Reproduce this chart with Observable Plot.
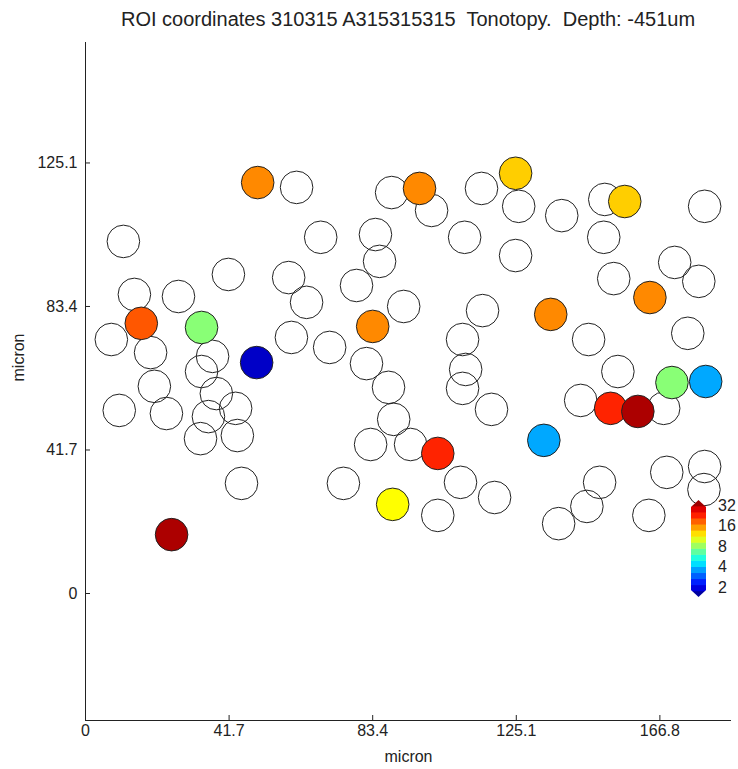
<!DOCTYPE html>
<html>
<head>
<meta charset="utf-8">
<script src="https://cdn.jsdelivr.net/npm/d3@7"></script>
<script src="https://cdn.jsdelivr.net/npm/@observablehq/plot@0.6"></script>
<style>
  html, body { margin: 0; padding: 0; background: #fff; }
  #wrap { position: relative; width: 738px; height: 769px; font-family: "Liberation Sans", Arial, sans-serif; color: #222; }
  #title { position: absolute; left: 85px; width: 646px; top: 7px; height: 28px; text-align: center; font-size: 20px; white-space: pre; line-height: 24px; }
  #chart { position: absolute; left: 0; top: 35px; }
  #cbar { position: absolute; left: 0; top: 0; pointer-events: none; }
</style>
</head>
<body>
<div id="wrap">
  <div id="title">ROI coordinates 310315 A315315315  Tonotopy.  Depth: -451um</div>
  <div id="chart"></div>
</div>
<script>
// ---- data (microns) ----
// ROIs without a tonotopic response (open circles)
const emptyX = [61.3, 88.9, 11.0, 68.3, 84.2, 85.4, 41.5, 59.0, 78.7, 64.2, 14.2, 27.0, 92.4, 7.5, 59.8, 70.9, 18.9, 36.9, 81.6, 33.7, 20.0, 88.0, 38.0, 9.8, 23.5, 43.6, 35.7, 89.5, 33.4, 44.1, 82.8, 94.4,
  100.5, 115.0, 125.8, 138.3, 150.8, 179.8, 110.1, 150.5, 124.9, 171.1, 178.1, 153.4, 115.3, 146.1, 174.9, 109.5, 110.4, 109.5, 154.6, 143.8, 167.9, 117.9,
  45.3, 74.9, 108.9, 102.3, 118.8, 149.3, 145.6, 137.4, 168.8, 179.8, 179.6, 163.6];
const emptyY = [118.0, 116.5, 102.3, 103.5, 104.3, 96.5, 92.7, 91.8, 89.5, 84.6, 86.9, 86.3, 83.4, 73.8, 74.4, 71.5, 70.0, 68.9, 66.8, 64.5, 60.2, 59.9, 58.1, 53.2, 52.3, 53.8, 51.4, 50.6, 45.0, 45.9, 43.3, 43.3,
  111.3, 117.7, 112.5, 109.8, 114.5, 112.5, 103.5, 103.5, 98.2, 96.2, 90.7, 91.5, 82.2, 73.8, 75.6, 73.8, 65.1, 59.6, 64.5, 56.1, 53.8, 53.5,
  32.0, 32.0, 32.3, 22.7, 27.9, 32.3, 25.3, 20.3, 35.2, 36.9, 30.2, 22.7];
// ROIs with a best frequency (filled circles)
const cellX  = [50.0, 97.0, 124.9, 156.6, 163.9, 135.1, 83.4, 16.2, 33.7, 49.7, 170.3, 180.1, 152.5, 160.4, 133.1, 102.3, 89.2, 25.0];
const cellY  = [119.4, 117.7, 122.1, 113.9, 86.0, 81.1, 77.6, 78.5, 77.3, 67.1, 61.3, 61.6, 53.8, 52.9, 44.5, 40.7, 25.9, 17.1];
const cellBF = [16.2, 16.2, 13.0, 13.0, 16.2, 16.2, 16.2, 19.0, 7.6, 1.8, 7.6, 3.7, 22.5, 32.9, 3.7, 22.5, 11.1, 32.9];
// axes
const xTicks = [0, 41.7, 83.4, 125.1, 166.8];
const yTicks = [0, 41.7, 83.4, 125.1];
const xDomain = [0, 187.6];
const yDomain = [-36.9, 160.1];
const colorDomain = [1.43, 37.9];
const cbTicks = [2, 4, 8, 16, 32];
const axisLabel = ["micron"];

const empties = emptyX.map((x, i) => ({x, y: emptyY[i]}));
const cells = cellX.map((x, i) => ({x, y: cellY[i], bf: cellBF[i]})).sort((a, b) => a.bf - b.bf);

const clamp = v => Math.max(0, Math.min(1, v));
const jet = t => {
  const r = clamp(1.5 - Math.abs(4 * t - 3));
  const g = clamp(1.5 - Math.abs(4 * t - 2));
  const b = clamp(1.5 - Math.abs(4 * t - 1));
  return d3.rgb(r * 255, g * 255, b * 255).formatHex();
};

const W = 738, H = 734, mT = 7, mB = 49, mL = 85, mR = 7;
const frameW = W - mL - mR, frameH = H - mT - mB, tickLen = 5;
const ink = "#222";

const plot = Plot.plot({
  width: W,
  height: H,
  marginTop: mT,
  marginBottom: mB,
  marginLeft: mL,
  marginRight: mR,
  style: {fontFamily: "'Liberation Sans', Arial, sans-serif", fontSize: "16px", color: ink, background: "white", overflow: "visible"},
  x: {domain: xDomain},
  y: {domain: yDomain},
  color: {type: "log", domain: colorDomain, interpolate: jet},
  marks: [
    Plot.axisX({ticks: xTicks, tickFormat: d => `${d}`, tickSize: 0, tickPadding: 4, label: null, fontSize: 16}),
    Plot.axisY({ticks: yTicks, tickFormat: d => `${d}`, tickSize: 0, tickPadding: 8, label: null, fontSize: 16}),
    Plot.tickX(xTicks, {x: d => d, stroke: ink, insetTop: frameH - tickLen}),
    Plot.tickY(yTicks, {y: d => d, stroke: ink, insetRight: frameW - tickLen}),
    Plot.ruleX([xDomain[0]], {stroke: ink}),
    Plot.ruleY([yDomain[0]], {stroke: ink}),
    Plot.text(axisLabel, {frameAnchor: "bottom", dy: 41, fontSize: 16, fill: ink}),
    Plot.text(axisLabel, {frameAnchor: "left", dx: -67, rotate: -90, fontSize: 16, fill: ink}),
    Plot.dot(empties, {x: "x", y: "y", r: 16.3, fill: "none", stroke: ink, strokeWidth: 1}),
    Plot.dot(cells, {x: "x", y: "y", r: 16.3, fill: "bf", stroke: ink, strokeWidth: 1})
  ]
});
document.getElementById("chart").appendChild(plot);

// ---- colorbar legend (uses the same log color mapping) ----
const cbX0 = 691, cbX1 = 706, cbTop = 500, cbBot = 597, tip = 7;
const cbScale = d3.scaleLog().domain(colorDomain).range([cbBot, cbTop]);
const svg = d3.select("#wrap").append("svg").attr("id", "cbar").attr("width", 738).attr("height", 769);
const cx = (cbX0 + cbX1) / 2;
svg.append("clipPath").attr("id", "cbclip").append("path")
  .attr("d", `M${cx},${cbTop}L${cbX1},${cbTop + tip}L${cbX1},${cbBot - tip}L${cx},${cbBot}L${cbX0},${cbBot - tip}L${cbX0},${cbTop + tip}Z`);
const nb = 16;
const g = svg.append("g").attr("clip-path", "url(#cbclip)");
for (let i = 0; i < nb; i++) {
  const y0 = cbBot - (cbBot - cbTop) * i / nb;
  const y1 = cbBot - (cbBot - cbTop) * (i + 1) / nb;
  g.append("rect").attr("x", cbX0).attr("width", cbX1 - cbX0).attr("y", y1 - 0.3).attr("height", y0 - y1 + 0.6)
    .attr("fill", jet((i + 0.5) / nb));
}
svg.selectAll("text.cb").data(cbTicks).join("text")
  .attr("x", cbX1 + 12).attr("y", d => cbScale(d)).attr("dy", "0.36em")
  .attr("font-size", 16).attr("fill", ink)
  .attr("font-family", "'Liberation Sans', Arial, sans-serif")
  .text(d => d);
</script>
</body>
</html>
